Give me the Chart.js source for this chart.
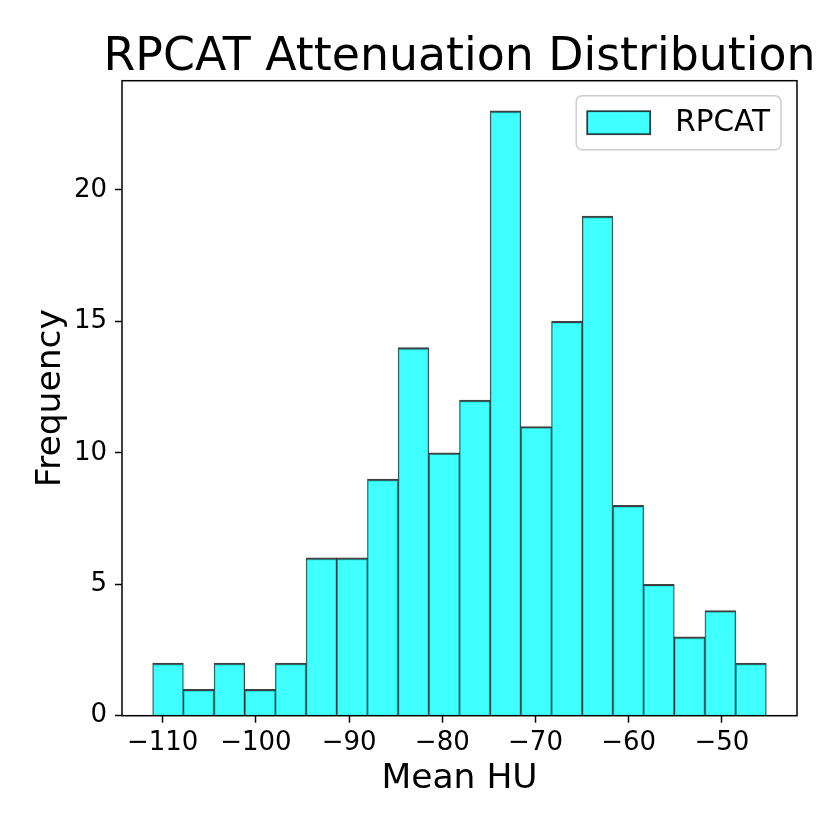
<!DOCTYPE html>
<html>
<head>
<meta charset="utf-8">
<script src="https://cdn.jsdelivr.net/npm/chart.js@4.4.1/dist/chart.umd.min.js"></script>
<style>
  html, body { margin: 0; padding: 0; background: #fff; }
  #wrap { width: 830px; height: 830px; }
</style>
</head>
<body>
<div id="wrap"><canvas id="chart" width="830" height="830"></canvas></div>
<script>
// histogram values
const titleText = 'RPCAT Attenuation Distribution'
const seriesLabel = 'RPCAT'
const counts = [2, 1, 2, 1, 2, 6, 6, 9, 14, 10, 12, 23, 11, 15, 19, 8, 5, 3, 4, 2]
const binStart = -111.07
const binWidth = 3.2915
const xTicks = [-110, -100, -90, -80, -70, -60, -50]
const yTicks = [0, 5, 10, 15, 20]

const FONT = "'DejaVu Sans', sans-serif"
const fill = 'rgba(0, 255, 255, 0.75)'
const edge = 'rgba(0, 0, 0, 0.75)'

const points = counts.map((c, i) => ({ x: binStart + binWidth * (i + 0.5), y: c }))
const span = binWidth * counts.length
const xMin = binStart - 0.05 * span
const xMax = binStart + span + 0.05 * span
const yMax = Math.max(...counts) * 1.05

const minus = v => (v < 0 ? '\u2212' + Math.abs(v) : String(v))

// black box around the plot, like matplotlib spines
const frame = {
    id: 'frame',
    afterDatasetsDraw(chart) {
        const { ctx, chartArea: a } = chart
        ctx.save()
        ctx.strokeStyle = '#000'
        ctx.lineWidth = 1.5
        ctx.strokeRect(a.left, a.top, a.right - a.left, a.bottom - a.top)
        ctx.restore()
    }
}

// title centred over the plot, allowed to run past its right edge
const plotTitle = {
    id: 'plotTitle',
    afterDraw(chart) {
        const { ctx, chartArea: a } = chart
        ctx.save()
        ctx.font = '45.8px ' + FONT
        ctx.fillStyle = '#000'
        ctx.textAlign = 'center'
        ctx.textBaseline = 'alphabetic'
        ctx.fillText(titleText, (a.left + a.right) / 2, 70)
        ctx.restore()
    }
}

// legend inside the upper right corner
const boxLegend = {
    id: 'boxLegend',
    afterDraw(chart) {
        const ds = chart.data.datasets[0]
        const { ctx, chartArea: a } = chart
        const fs = 29.5
        ctx.save()
        ctx.font = fs + 'px ' + FONT
        const tw = ctx.measureText(ds.label).width
        const pad = 11, patchW = 63, patchH = 23, gap = 25
        const w = pad + patchW + gap + tw + pad
        const h = 54
        const x = a.right - 16 - w
        const y = a.top + 15
        ctx.beginPath()
        ctx.roundRect(x, y, w, h, 6)
        ctx.fillStyle = 'rgba(255,255,255,0.8)'
        ctx.fill()
        ctx.strokeStyle = '#cccccc'
        ctx.lineWidth = 1.5
        ctx.stroke()
        const py = y + (h - patchH) / 2
        ctx.fillStyle = ds.backgroundColor
        ctx.fillRect(x + pad, py, patchW, patchH)
        ctx.strokeStyle = ds.borderColor
        ctx.lineWidth = 1.8
        ctx.strokeRect(x + pad, py, patchW, patchH)
        ctx.fillStyle = '#000'
        ctx.textBaseline = 'middle'
        ctx.fillText(ds.label, x + pad + patchW + gap, y + h / 2 + 1)
        ctx.restore()
    }
}

new Chart(document.getElementById('chart'), {
    type: 'bar',
    data: {
        datasets: [{
            label: seriesLabel,
            data: points,
            backgroundColor: fill,
            borderColor: edge,
            borderWidth: { top: 2, left: 1, right: 1, bottom: 0 },
            borderSkipped: false,
            barPercentage: 1,
            categoryPercentage: 1
        }]
    },
    options: {
        responsive: false,
        animation: false,
        layout: { padding: { left: 0, right: 33, top: 80.7, bottom: 0 } },
        plugins: {
            legend: { display: false },
            tooltip: { enabled: false },
            title: { display: false }
        },
        scales: {
            x: {
                type: 'linear',
                min: xMin,
                max: xMax,
                offset: false,
                afterFit: s => { s.height = 114.3 },
                afterBuildTicks: s => { s.ticks = xTicks.map(v => ({ value: v })) },
                grid: { display: true, offset: false, drawOnChartArea: false, drawTicks: true, tickLength: 7, tickWidth: 1.5, tickColor: '#000' },
                border: { display: false },
                ticks: {
                    color: '#000',
                    padding: 5,
                    maxRotation: 0,
                    autoSkip: false,
                    font: { family: FONT, size: 26 },
                    callback: v => minus(v)
                },
                title: {
                    display: true,
                    text: 'Mean HU',
                    color: '#000',
                    font: { family: FONT, size: 34.5, lineHeight: 1.2 },
                    padding: { top: 0, bottom: 30 }
                }
            },
            y: {
                type: 'linear',
                min: 0,
                max: yMax,
                afterFit: s => { s.width = 122 },
                afterBuildTicks: s => { s.ticks = yTicks.map(v => ({ value: v })) },
                grid: { display: true, drawOnChartArea: false, drawTicks: true, tickLength: 7, tickWidth: 1.5, tickColor: '#000' },
                border: { display: false },
                ticks: {
                    color: '#000',
                    padding: 8,
                    autoSkip: false,
                    font: { family: FONT, size: 26 },
                    callback: v => minus(v)
                },
                title: {
                    display: true,
                    text: 'Frequency',
                    color: '#000',
                    font: { family: FONT, size: 34.5, lineHeight: 1.2 },
                    padding: { top: 30, bottom: 0 }
                }
            }
        }
    },
    plugins: [frame, plotTitle, boxLegend]
})
</script>
</body>
</html>
